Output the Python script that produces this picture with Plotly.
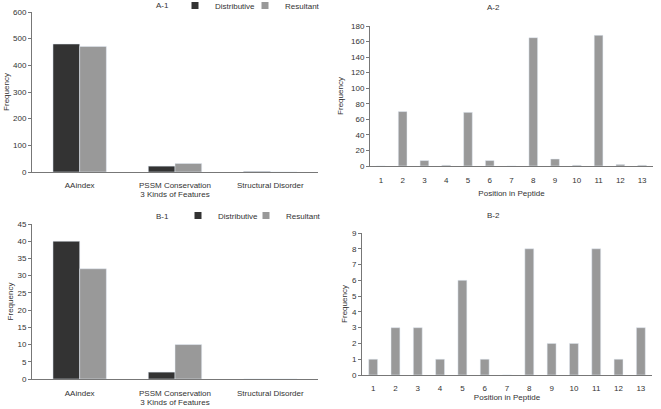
import plotly.graph_objects as go

features = ["AAindex", "PSSM Conservation", "Structural Disorder"]
a1_distributive = [480, 22, 2]
a1_resultant = [471, 32, 0]
b1_distributive = [40, 2, 0]
b1_resultant = [32, 10, 0]

positions = [str(i) for i in range(1, 14)]
a2_freq = [0, 70, 7, 1, 69, 7, 0, 165, 9, 1, 168, 2, 1]
b2_freq = [1, 3, 3, 1, 6, 1, 0, 8, 2, 2, 8, 1, 3]

series_names = ["Distributive", "Resultant"]

DARK = "#333333"
LIGHT = "#999999"
W, H = 661, 409
FONT = "Liberation Sans, Arial, sans-serif"
TXT = "#333333"
AXIS = "#777777"

fig = go.Figure()

fig.add_trace(go.Bar(x=features, y=a1_distributive, name=series_names[0], marker_color=DARK,
                     xaxis="x", yaxis="y", showlegend=False))
fig.add_trace(go.Bar(x=features, y=a1_resultant, name=series_names[1], marker_color=LIGHT,
                     xaxis="x", yaxis="y", showlegend=False))
fig.add_trace(go.Bar(x=positions, y=a2_freq, marker_color=LIGHT, showlegend=False,
                     xaxis="x2", yaxis="y2", width=0.4))
fig.add_trace(go.Bar(x=features, y=b1_distributive, name=series_names[0], marker_color=DARK,
                     xaxis="x3", yaxis="y3", showlegend=False))
fig.add_trace(go.Bar(x=features, y=b1_resultant, name=series_names[1], marker_color=LIGHT,
                     xaxis="x3", yaxis="y3", showlegend=False))
fig.add_trace(go.Bar(x=positions, y=b2_freq, marker_color=LIGHT, showlegend=False,
                     xaxis="x4", yaxis="y4", width=0.4))

# legend entries (small square swatches like the original), one legend box per entry
legend_ids = [("legend", "legend2", "x", "y"), ("legend3", "legend4", "x3", "y3")]
for lg_d, lg_r, xa, ya in legend_ids:
    for name, col, lg in zip(series_names, (DARK, LIGHT), (lg_d, lg_r)):
        fig.add_trace(go.Scatter(x=[None], y=[None], mode="markers", name=name,
                                 marker=dict(symbol="square", size=7, color=col),
                                 xaxis=xa, yaxis=ya, legend=lg, showlegend=True))


def px(x):
    return x / W


def py(y):
    return 1 - y / H


axis_common = dict(showgrid=False, zeroline=False, showline=True, linecolor=AXIS,
                   linewidth=1, tickfont=dict(size=8, color=TXT), automargin=False)


def xax(d0, d1, anchor, title, ticklen, standoff):
    return dict(axis_common, domain=[px(d0), px(d1)], anchor=anchor, ticks="outside",
                ticklen=ticklen, tickcolor="rgba(0,0,0,0)", type="category",
                title=dict(text=title, font=dict(size=8, color=TXT), standoff=standoff))


def yax(d0, d1, anchor, rng, dtick, standoff):
    return dict(axis_common, domain=[py(d0), py(d1)], anchor=anchor, range=rng, dtick=dtick,
                ticks="outside", ticklen=3, tickcolor=AXIS,
                title=dict(text="Frequency", font=dict(size=8, color=TXT), standoff=standoff))


def title_ann(text, x, y):
    return dict(text=text, x=px(x), y=py(y), xref="paper", yref="paper", showarrow=False,
                xanchor="center", yanchor="middle", font=dict(size=8, color=TXT))


def leg(x, top):
    return dict(orientation="h", xanchor="left", yanchor="top", x=px(x), y=py(top),
                font=dict(size=8, color=TXT), itemwidth=30, bgcolor="rgba(0,0,0,0)")


fig.update_layout(
    width=W, height=H,
    margin=dict(l=0, r=0, t=0, b=0, autoexpand=False),
    paper_bgcolor="white", plot_bgcolor="white",
    font=dict(family=FONT, size=8, color=TXT),
    barmode="group",
    bargap=0.44, bargroupgap=0,
    xaxis=xax(32, 318, "y", "3 Kinds of Features", 5, 0),
    yaxis=yax(172, 12, "x", [0, 600], 100, 2),
    xaxis2=xax(370, 653, "y2", "Position in Peptide", 6, 6),
    yaxis2=yax(166, 26, "x2", [0, 180], 20, 6),
    xaxis3=xax(32, 318, "y3", "3 Kinds of Features", 6, 2),
    yaxis3=yax(379, 224, "x3", [0, 45], 5, 2),
    xaxis4=xax(362, 652, "y4", "Position in Peptide", 5, 2),
    yaxis4=yax(375, 233, "x4", [0, 9], 1, 3),
    legend=leg(175, -9),
    legend2=leg(245, -9),
    legend3=leg(178, 201),
    legend4=leg(246, 201),
    annotations=[
        title_ann("A-1", 162, 6),
        title_ann("A-2", 493, 7),
        title_ann("B-1", 162, 216),
        title_ann("B-2", 493, 215),
    ],
)

fig.write_html("out.html", config={"displayModeBar": False},
               post_script="document.body.style.margin='0';")
